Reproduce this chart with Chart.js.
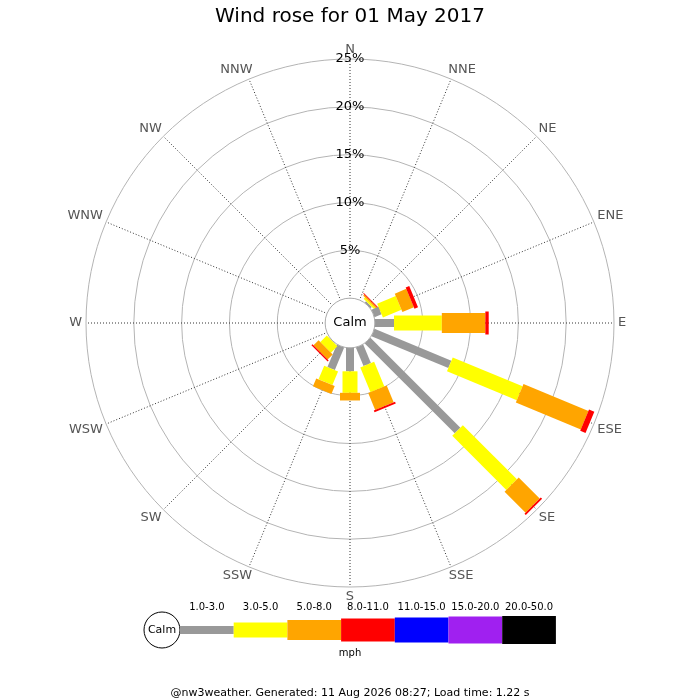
<!DOCTYPE html>
<html>
<head>
    <title>Wind rose</title>
    <script src="https://cdn.jsdelivr.net/npm/chart.js@4.4.0/dist/chart.umd.min.js"></script>
    <style>
        html, body { margin: 0; padding: 0; background: #fff; }
    </style>
</head>
<body>
    <canvas id="rose" width="700" height="700"></canvas>

    <script>
        var directions = ['N', 'NNE', 'NE', 'ENE', 'E', 'ESE', 'SE', 'SSE', 'S', 'SSW', 'SW', 'WSW', 'W', 'WNW', 'NW', 'NNW'];
        var speedBins = ['1.0-3.0', '3.0-5.0', '5.0-8.0', '8.0-11.0', '11.0-15.0', '15.0-20.0', '20.0-50.0'];
        var binColours = ['#999999', '#ffff00', '#ffa500', '#ff0000', '#0000ff', '#a020f0', '#000000'];
        var binWidths = [8, 15, 20, 23, 25, 27, 28];
        var tickValues = [5, 10, 15, 20, 25];

        // percentage of the day, one value per direction (N..NNW)
        var pct1to3   = [0, 0, 0.2, 0.8, 2.0, 8.7, 13.3, 2.1, 2.45, 2.55, 0.05, 0, 0, 0, 0, 0];
        var pct3to5   = [0, 0, 0.2, 2.1, 5.0, 7.9, 8.0, 2.8, 2.25, 1.55, 0.95, 0, 0, 0, 0, 0];
        var pct5to8   = [0, 0, 0.15, 1.3, 4.55, 7.35, 3.1, 1.9, 0.8, 0.9, 0.75, 0, 0, 0, 0, 0];
        var pct8to11  = [0, 0, 0.1, 0.4, 0.35, 0.6, 0.2, 0.2, 0, 0, 0.15, 0, 0, 0, 0, 0];
        var pct11to15 = [0, 0, 0, 0, 0, 0, 0, 0, 0, 0, 0, 0, 0, 0, 0, 0];
        var pct15to20 = [0, 0, 0, 0, 0, 0, 0, 0, 0, 0, 0, 0, 0, 0, 0, 0];
        var pct20to50 = [0, 0, 0, 0, 0, 0, 0, 0, 0, 0, 0, 0, 0, 0, 0, 0];
        var binData = [pct1to3, pct3to5, pct5to8, pct8to11, pct11to15, pct15to20, pct20to50];

        var FONT = "'DejaVu Sans', sans-serif";
        Chart.defaults.font.family = FONT;

        //Bars, calm circle, compass labels and the speed key

        var rosePlugin = {
            id: 'rose',
            afterDatasetsDraw: function(chart) {
                var ctx = chart.ctx;
                var r = chart.scales.r;
                ctx.save();
                ctx.lineCap = 'butt';
                for (var i = 0; i < directions.length; i++) {
                    var base = 0;
                    chart.data.datasets.forEach(function(ds) {
                        var v = ds.data[i];
                        if (v > 0) {
                            var a = r.getPointPositionForValue(i, base);
                            var b = r.getPointPositionForValue(i, base + v);
                            ctx.beginPath();
                            ctx.moveTo(a.x, a.y);
                            ctx.lineTo(b.x, b.y);
                            ctx.lineWidth = ds.barWidth;
                            ctx.strokeStyle = ds.backgroundColor;
                            ctx.stroke();
                        }
                        base += v;
                    });
                }

                // calm circle
                var calmR = r.getDistanceFromCenterForValue(0);
                ctx.beginPath();
                ctx.arc(r.xCenter, r.yCenter, calmR, 0, Math.PI * 2);
                ctx.fillStyle = '#fff';
                ctx.fill();
                ctx.lineWidth = 1;
                ctx.strokeStyle = '#aaaaaa';
                ctx.stroke();
                ctx.fillStyle = '#000';
                ctx.font = '13px ' + FONT;
                ctx.textAlign = 'center';
                ctx.textBaseline = 'middle';
                ctx.fillText('Calm', r.xCenter, r.yCenter);

                // compass labels
                ctx.fillStyle = '#555';
                for (var j = 0; j < directions.length; j++) {
                    var p = r.getPointPosition(j, r.drawingArea);
                    var ang = r.getIndexAngle(j);
                    var s = Math.sin(ang), c = Math.cos(ang);
                    if (Math.abs(s) < 1e-6) s = 0;
                    if (Math.abs(c) < 1e-6) c = 0;
                    var w = ctx.measureText(directions[j]).width;
                    var sx = Math.sign(s) * Math.sqrt(Math.abs(s));
                    var sy = -Math.sign(c) * Math.sqrt(Math.abs(c));
                    ctx.fillText(directions[j], p.x + sx * (w / 2 + 4), p.y + sy * 9.5);
                }
                ctx.restore();
            },
            afterDraw: function(chart) {
                var ctx = chart.ctx;
                var x0 = 180, boxW = 53.7, ly = 630;
                ctx.save();
                ctx.beginPath();
                ctx.arc(162, ly, 18, 0, Math.PI * 2);
                ctx.fillStyle = '#fff';
                ctx.fill();
                ctx.lineWidth = 1;
                ctx.strokeStyle = '#000';
                ctx.stroke();
                ctx.textAlign = 'center';
                ctx.textBaseline = 'middle';
                ctx.fillStyle = '#000';
                ctx.font = '11px ' + FONT;
                ctx.fillText('Calm', 162, ly);
                chart.data.datasets.forEach(function(ds, k) {
                    var x = x0 + k * boxW;
                    ctx.fillStyle = ds.backgroundColor;
                    ctx.fillRect(x, ly - ds.barWidth / 2, boxW, ds.barWidth);
                    ctx.fillStyle = '#000';
                    ctx.font = '10px ' + FONT;
                    ctx.fillText(ds.label, x + boxW / 2, 607);
                });
                ctx.fillText('mph', 350, 653);
                ctx.restore();
            }
        };

        new Chart('rose', {
            type: 'radar',
            data: {
                labels: directions,
                datasets: speedBins.map(function(bin, k) {
                    return {
                        label: bin,
                        data: binData[k],
                        backgroundColor: binColours[k],
                        borderColor: binColours[k],
                        borderWidth: 0,
                        pointRadius: 0,
                        pointHoverRadius: 0,
                        showLine: false,
                        fill: false,
                        barWidth: binWidths[k]
                    };
                })
            },
            options: {
                responsive: false,
                animation: false,
                layout: {padding: 0},
                plugins: {
                    legend: {display: false},
                    tooltip: {enabled: false},
                    title: {
                        display: true,
                        text: 'Wind rose for 01 May 2017',
                        color: '#000',
                        font: {size: 20, weight: 'normal'},
                        padding: {top: 5, bottom: 24}
                    },
                    subtitle: {
                        display: true,
                        position: 'bottom',
                        text: '@nw3weather. Generated: 11 Aug 2026 08:27; Load time: 1.22 s',
                        color: '#000',
                        font: {size: 11},
                        padding: {top: 92.5, bottom: 0}
                    }
                },
                scales: {
                    r: {
                        min: -2.6,
                        max: 25,
                        startAngle: 0,
                        afterBuildTicks: function(scale) {
                            scale.ticks = tickValues.map(function(v) { return {value: v}; });
                        },
                        ticks: {
                            callback: function(v) { return v + '%'; },
                            color: '#000',
                            font: {size: 13},
                            showLabelBackdrop: false,
                            backdropPadding: 0
                        },
                        grid: {circular: true, color: '#b4b4b4', lineWidth: 1},
                        angleLines: {color: '#333', lineWidth: 1, borderDash: [1, 2]},
                        pointLabels: {display: false}
                    }
                }
            },
            plugins: [rosePlugin]
        });
    </script>
</body>
</html>
